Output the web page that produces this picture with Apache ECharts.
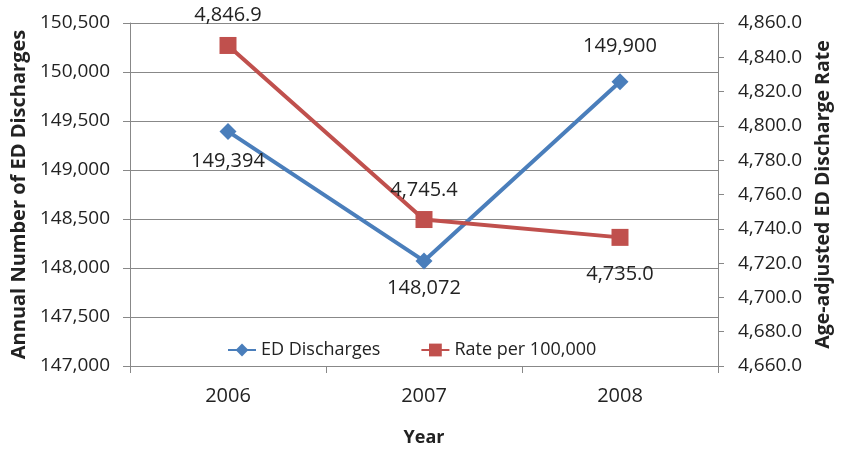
<!DOCTYPE html>
<html>
<head>
<meta charset="utf-8">
<script src="https://cdn.jsdelivr.net/npm/echarts@6/dist/echarts.min.js"></script>
<style>
  html, body { margin: 0; padding: 0; background: #fff; }
  #chart { width: 843px; height: 452px; }
</style>
</head>
<body>
<div id="chart"></div>
<script>
const years = ['2006', '2007', '2008'];
const edDischarges = [149394, 148072, 149900];
const ratePer100k = [4846.9, 4745.4, 4735.0];
// where each data label sits (above/below the point)
const edLabelPos = ['bottom', 'bottom', 'top'];
const rateLabelPos = ['top', 'top', 'bottom'];
const edLabelGap = [11, 9, 17];
const rateLabelGap = [12, 11, 18];

const fmtInt = v => Math.round(v).toLocaleString('en-US');
const fmtDec = v => Number(v).toLocaleString('en-US', { minimumFractionDigits: 1, maximumFractionDigits: 1 });

const chart = echarts.init(document.getElementById('chart'));
const font = 'Open Sans, sans-serif';
const gridColor = '#888888';
const txt = '#222222';

chart.setOption({
  animation: false,
  textStyle: { fontFamily: font },
  grid: { left: 130, right: 125, top: 23, bottom: 83 },
  legend: {
    left: 222,
    top: 336,
    itemWidth: 28,
    itemHeight: 16,
    itemGap: 40,
    textStyle: { fontSize: 18, color: txt, fontFamily: font },
    data: ['ED Discharges', 'Rate per 100,000'],
  },
  xAxis: {
    type: 'category',
    data: years,
    name: 'Year',
    nameLocation: 'middle',
    nameGap: 63,
    nameTextStyle: { fontSize: 18, fontWeight: 'bold', color: txt },
    axisLine: { lineStyle: { color: gridColor, width: 1 } },
    axisTick: { show: true, length: 7, alignWithLabel: false, lineStyle: { color: gridColor } },
    axisLabel: { fontSize: 20, color: txt, margin: 20 },
  },
  yAxis: [
    {
      type: 'value',
      min: 147000,
      max: 150500,
      interval: 500,
      name: 'Annual Number of ED Discharges',
      nameLocation: 'middle',
      nameRotate: 90,
      nameGap: 96,
      nameTextStyle: { fontSize: 20, fontWeight: 'bold', color: txt },
      axisLine: { show: true, lineStyle: { color: gridColor } },
      axisTick: { show: true, length: 7, lineStyle: { color: gridColor } },
      axisLabel: { fontSize: 19, color: txt, formatter: fmtInt, margin: 20 },
      splitLine: { show: true, lineStyle: { color: gridColor, width: 1 } },
    },
    {
      type: 'value',
      min: 4660,
      max: 4860,
      interval: 20,
      position: 'right',
      name: 'Age-adjusted ED Discharge Rate',
      nameLocation: 'middle',
      nameRotate: 90,
      nameGap: 93,
      nameTextStyle: { fontSize: 19.5, fontWeight: 'bold', color: txt },
      axisLine: { show: true, lineStyle: { color: gridColor } },
      axisTick: { show: true, length: 6, lineStyle: { color: gridColor } },
      axisLabel: { fontSize: 19, color: txt, formatter: fmtDec, margin: 20 },
      splitLine: { show: false },
    },
  ],
  series: [
    {
      name: 'ED Discharges',
      type: 'line',
      yAxisIndex: 0,
      symbol: 'diamond',
      symbolSize: 17,
      lineStyle: { width: 4, color: '#4A7EBB' },
      itemStyle: { color: '#4A7EBB' },
      data: edDischarges.map((v, i) => ({
        value: v,
        label: {
          show: true, position: edLabelPos[i], distance: edLabelGap[i],
          formatter: p => fmtInt(p.value), fontSize: 20, color: txt,
        },
      })),
    },
    {
      name: 'Rate per 100,000',
      type: 'line',
      yAxisIndex: 1,
      symbol: 'rect',
      symbolSize: 17,
      lineStyle: { width: 4, color: '#C0504D' },
      itemStyle: { color: '#C0504D' },
      data: ratePer100k.map((v, i) => ({
        value: v,
        label: {
          show: true, position: rateLabelPos[i], distance: rateLabelGap[i],
          formatter: p => fmtDec(p.value), fontSize: 20, color: txt,
        },
      })),
    },
  ],
});
</script>
</body>
</html>
